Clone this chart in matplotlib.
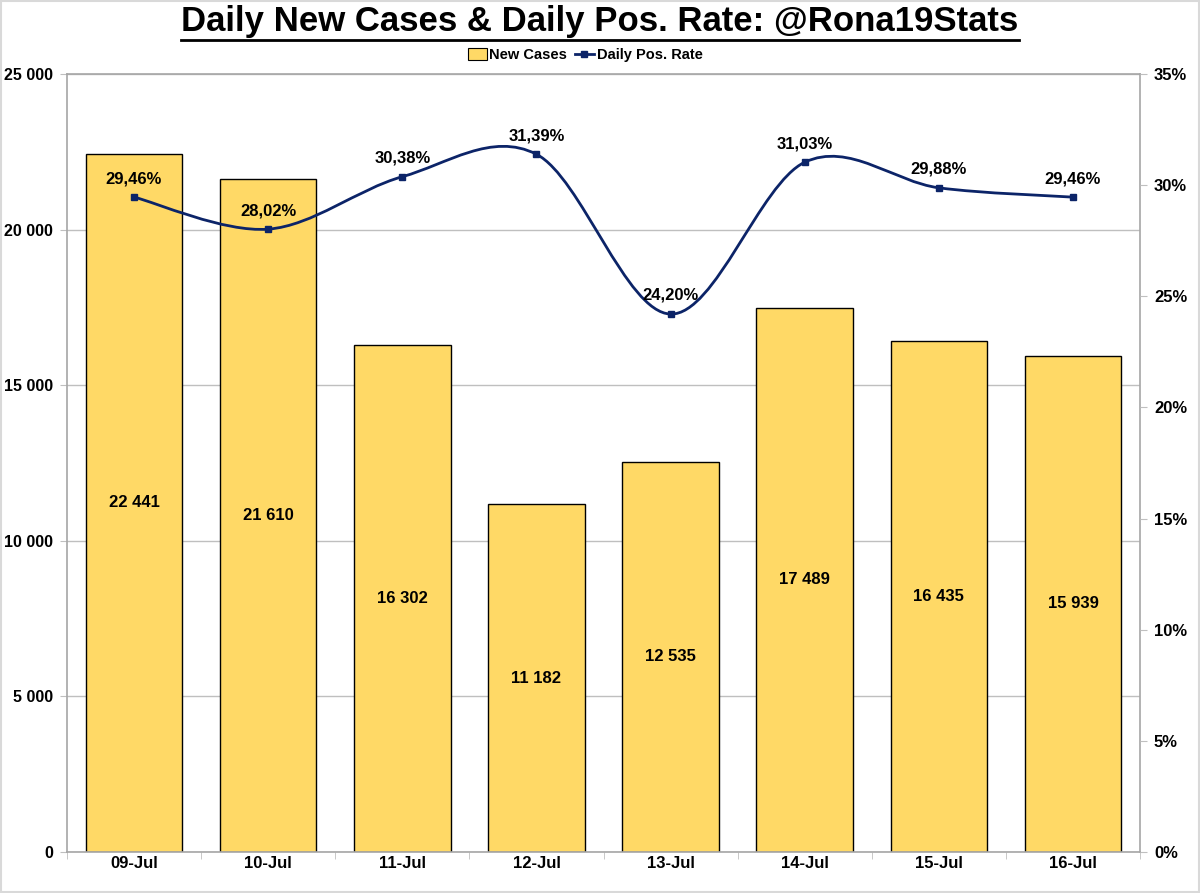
import matplotlib
matplotlib.use("Agg")
import matplotlib.pyplot as plt
from matplotlib.path import Path
from matplotlib.patches import PathPatch, Rectangle
from matplotlib.lines import Line2D
import matplotlib.font_manager as fm
import numpy as np

categories = ["09-Jul", "10-Jul", "11-Jul", "12-Jul", "13-Jul", "14-Jul", "15-Jul", "16-Jul"]
new_cases = [22441, 21610, 16302, 11182, 12535, 17489, 16435, 15939]
pos_rate = [29.46, 28.02, 30.38, 31.39, 24.20, 31.03, 29.88, 29.46]
left_ticks = [0, 5000, 10000, 15000, 20000, 25000]
right_ticks = [0, 5, 10, 15, 20, 25, 30, 35]

FAM = ["Liberation Sans", "DejaVu Sans"]
plt.rcParams['font.family'] = FAM

BAR = "#FFD966"
LINE = "#0C2468"
GRID = "#BFBFBF"

def fmt(v):
    return f"{int(v):,}".replace(",", " ")

fig = plt.figure(figsize=(12, 8.93), dpi=100)
ax = fig.add_axes([67/1200, 41/893, (1140-67)/1200, (852-74)/893])
x = np.arange(len(categories))
ax.bar(x, new_cases, width=0.72, color=BAR, edgecolor="black", linewidth=1.0, zorder=2)
ax.set_xlim(-0.5, len(categories) - 0.5)
ax.set_ylim(0, 25000)
ax.set_yticks(left_ticks)
ax.set_yticklabels([fmt(v) for v in left_ticks], fontsize=11.5, fontweight="bold")
ax.set_xticks(x)
ax.set_xticklabels(categories, fontsize=12, fontweight="bold")
ax.set_xticks(np.arange(-0.5, len(categories), 1), minor=True)
ax.tick_params(axis="x", which="major", length=0, pad=3)
ax.tick_params(axis="x", which="minor", length=5, color=GRID)
ax.tick_params(axis="y", length=5, color=GRID, pad=5)
ax.grid(axis="y", color=GRID, linewidth=1, zorder=0)
ax.set_axisbelow(True)
for s in ax.spines.values():
    s.set_color("#A6A6A6")
    s.set_linewidth(1.2)

for xi, v in zip(x, new_cases):
    ax.text(xi, v / 2, fmt(v), ha="center", va="center", fontsize=12, fontweight="bold", zorder=4)

ax2 = ax.twinx()
ax2.set_ylim(0, 35)
ax2.set_yticks(right_ticks)
ax2.set_yticklabels([f"{v}%" for v in right_ticks], fontsize=12, fontweight="bold")
ax2.tick_params(axis="y", length=5, color=GRID, pad=5)
for s in ax2.spines.values():
    s.set_visible(False)

# smooth (Bezier) line through the points
pts = np.column_stack([x, pos_rate]).astype(float)
ext = np.vstack([pts[0], pts, pts[-1]])
verts = [tuple(pts[0])]
codes = [Path.MOVETO]
for i in range(len(pts) - 1):
    p0, p1, p2, p3 = ext[i], ext[i + 1], ext[i + 2], ext[i + 3]
    c1 = p1 + (p2 - p0) / 6
    c2 = p2 - (p3 - p1) / 6
    verts += [tuple(c1), tuple(c2), tuple(p2)]
    codes += [Path.CURVE4] * 3
ax2.add_patch(PathPatch(Path(verts, codes), facecolor="none", edgecolor=LINE, linewidth=2, zorder=3))
ax2.plot(x, pos_rate, linestyle="none", marker="s", markersize=5, color=LINE, zorder=4)
for xi, v in zip(x, pos_rate):
    ax2.annotate(f"{v:.2f}%".replace(".", ","), (xi, v), xytext=(0, 8), textcoords="offset points",
                 ha="center", va="bottom", fontsize=12, fontweight="bold", zorder=5)

# legend
h1 = Rectangle((0, 0), 1, 1, facecolor=BAR, edgecolor="black", linewidth=0.8)
h2 = Line2D([0], [0], color=LINE, marker="s", markersize=4, linewidth=2)
fig.legend([h1, h2], ["New Cases", "Daily Pos. Rate"], loc="center", bbox_to_anchor=(585/1200, 1 - 55/893),
           ncol=2, frameon=False, prop={"weight": "bold", "size": 10.5},
           handlelength=1.3, handletextpad=0.2, columnspacing=0.5, handleheight=0.8)

# title with underline
t = fig.text(0.5, 1 - 21/893, "Daily New Cases & Daily Pos. Rate: @Rona19Stats", ha="center", va="center",
             fontsize=25, fontweight="bold")
fig.canvas.draw()
bb = t.get_window_extent(fig.canvas.get_renderer())
yline = (893 - 40) / 893
fig.add_artist(Line2D([bb.x0 / fig.bbox.width, bb.x1 / fig.bbox.width], [yline, yline],
                      transform=fig.transFigure, color="black", linewidth=2))

fig.add_artist(Rectangle((0.001, 0.001), 0.998, 0.998, transform=fig.transFigure, fill=False,
                         edgecolor="#D9D9D9", linewidth=1.5))

fig.savefig("out.png", dpi=100)
